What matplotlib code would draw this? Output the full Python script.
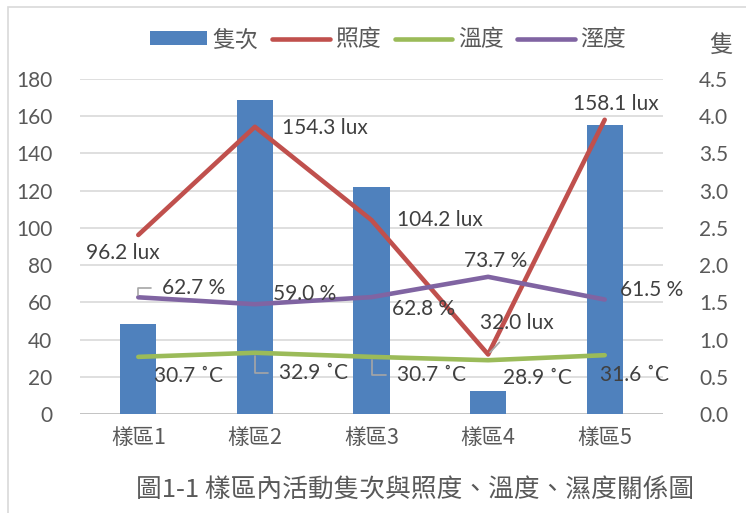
import matplotlib.pyplot as plt
from matplotlib.patches import Rectangle, Patch
from matplotlib.lines import Line2D
import numpy as np

# 樣區資料
sites = ['樣區1', '樣區2', '樣區3', '樣區4', '樣區5']
counts = [1.21, 4.22, 3.05, 0.31, 3.88]          # 隻次 (右軸)
lux = [96.2, 154.3, 104.2, 32.0, 158.1]          # 照度
temp = [30.7, 32.9, 30.7, 28.9, 31.6]            # 溫度
humid = [62.7, 59.0, 62.8, 73.7, 61.5]           # 濕度

C_BAR = '#4F81BD'
C_LUX = '#C0504D'
C_TEMP = '#9BBB59'
C_HUM = '#8064A2'
C_TXT = '#404040'
C_TICK = '#595959'

CJK = ['Noto Sans CJK TC', 'DejaVu Sans']
NUM = ['Lato', 'Noto Sans CJK TC', 'DejaVu Sans']
plt.rcParams['font.family'] = CJK

W, H = 746, 513
fig = plt.figure(figsize=(W / 100, H / 100), dpi=100)

# 外框
fig.patches.append(Rectangle((8 / W, -0.1), 1.2, (H - 7) / H + 0.1,
                             transform=fig.transFigure, fill=False,
                             edgecolor='#D9D9D9', linewidth=1.2))

ax_bar = fig.add_axes([80 / W, 1 - 414 / H, 583 / W, 335 / H])
ax_line = ax_bar.twinx()

x = np.arange(len(sites))

# 隻次長條 (右軸)
ax_bar.bar(x, counts, width=0.31, color=C_BAR, zorder=2)
ax_bar.set_ylim(0, 4.5)
ax_bar.set_yticks(np.arange(0, 4.51, 0.5))
ax_bar.set_yticklabels([f'{v:.1f}' for v in np.arange(0, 4.51, 0.5)])
ax_bar.yaxis.tick_right()
ax_bar.grid(axis='y', color='#D9D9D9', linewidth=1.2, zorder=0)
ax_bar.set_axisbelow(True)

# 折線 (左軸)
lw = 3.3
ax_line.plot(x, lux, color=C_LUX, linewidth=lw, solid_capstyle='round', zorder=3)
ax_line.plot(x, temp, color=C_TEMP, linewidth=lw, solid_capstyle='round', zorder=3)
ax_line.plot(x, humid, color=C_HUM, linewidth=lw, solid_capstyle='round', zorder=3)
ax_line.set_ylim(0, 180)
ax_line.set_yticks(np.arange(0, 181, 20))
ax_line.yaxis.tick_left()

ax_bar.set_xlim(-0.5, len(sites) - 0.5)
ax_bar.set_xticks(x)
ax_bar.set_xticklabels(sites)

for a in (ax_bar, ax_line):
    for s in a.spines.values():
        s.set_visible(False)
    a.tick_params(length=0, colors=C_TICK, labelsize=15)
ax_bar.tick_params(axis='x', pad=9, labelsize=15.5)
for lbl in ax_bar.get_xticklabels():
    lbl.set_fontfamily(CJK)
    lbl.set_fontweight('light')
for lbl in ax_bar.get_yticklabels() + ax_line.get_yticklabels():
    lbl.set_fontfamily(NUM)
ax_bar.tick_params(axis='y', pad=26)
ax_line.tick_params(axis='y', pad=20)
ax_bar.axhline(0, color='#BFBFBF', linewidth=1.2, zorder=1)

# 資料標籤 (像素偏移)
lux_off = [(-15, -18), (70, -1), (68, 0), (29, 31), (11, 16)]
hum_off = [(55, 9), (50, 10), (52, -12), (8, 16), (47, 10)]
tmp_off = [(50, -19), (59, -20), (60, -18), (49, -18), (30, -20)]
lux_lead = [False, False, False, True, False]
hum_lead = [True, False, False, False, False]
tmp_lead = [False, True, True, False, False]

leader = dict(arrowstyle='-', color='#A6A6A6', linewidth=1.2,
              shrinkA=6, shrinkB=2)


def put_labels(vals, fmt, offs, leads):
    for i, (v, (dx, dy), ld) in enumerate(zip(vals, offs, leads)):
        kw = {}
        if ld:
            kw['arrowprops'] = dict(leader, connectionstyle='angle,angleA=0,angleB=90') \
                if dx > 35 else dict(leader)
        ax_line.annotate(fmt.format(v), (x[i], v), xytext=(dx, dy),
                         textcoords='offset pixels', ha='center', va='center',
                         fontsize=15, color=C_TXT, family=NUM, zorder=5, **kw)


put_labels(lux, '{:.1f} lux', lux_off, lux_lead)
put_labels(humid, '{:.1f} %', hum_off, hum_lead)
put_labels(temp, '{:.1f} ˚C', tmp_off, tmp_lead)

# 右軸單位
fig.text(721 / W, 1 - 46 / H, '隻', ha='center', va='center', fontsize=17,
         color=C_TICK, fontweight='light')

# 圖例
handles = [Patch(facecolor=C_BAR, edgecolor='none'),
           Line2D([], [], color=C_LUX, linewidth=lw, solid_capstyle='round'),
           Line2D([], [], color=C_TEMP, linewidth=lw, solid_capstyle='round'),
           Line2D([], [], color=C_HUM, linewidth=lw, solid_capstyle='round')]
leg = fig.legend(handles, ['隻次', '照度', '溫度', '溼度'], ncol=4,
                 loc='center', bbox_to_anchor=(388 / W, 1 - 40 / H),
                 frameon=False, handlelength=2.5, handleheight=0.55,
                 handletextpad=0.25, columnspacing=0.6, labelcolor=C_TICK,
                 prop=dict(family=CJK, size=16.5, weight='light'))

# 圖名
fig.text(415 / W, 1 - 491 / H, '圖1-1 樣區內活動隻次與照度、溫度、濕度關係圖',
         ha='center', va='center', fontsize=18.5, color=C_TICK, fontweight='light')

fig.savefig('out.png', dpi=100)
